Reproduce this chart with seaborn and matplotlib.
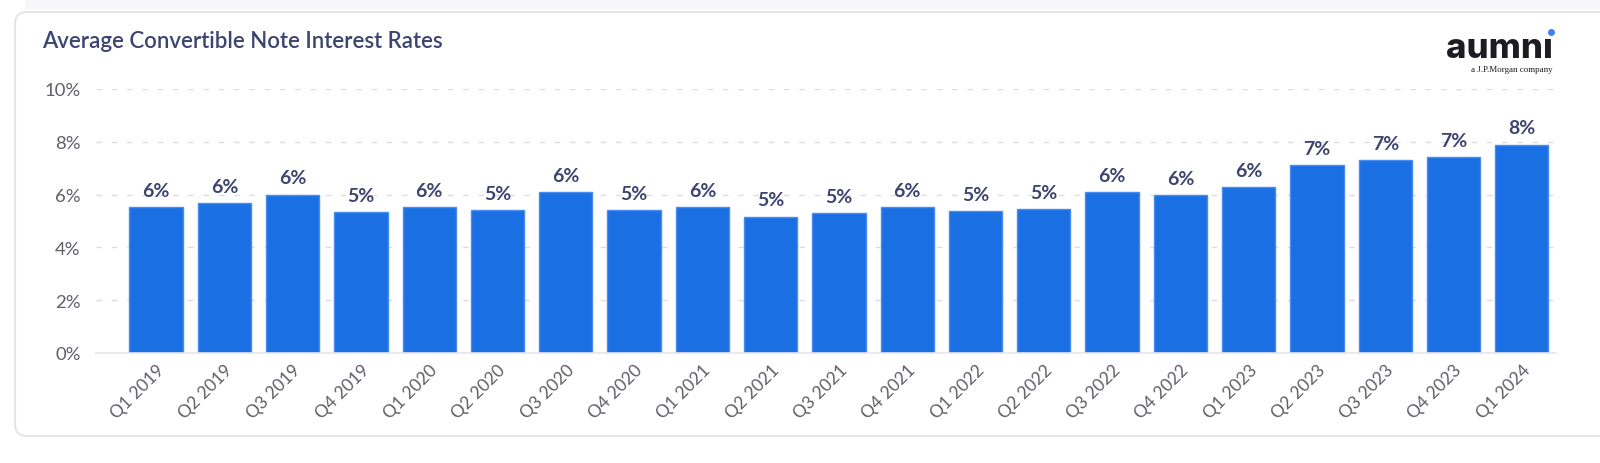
import numpy as np
import pandas as pd
import seaborn as sns
import matplotlib.pyplot as plt
from matplotlib.patches import FancyBboxPatch, Rectangle
from matplotlib.lines import Line2D

# values (percent)
quarters = ["Q1 2019", "Q2 2019", "Q3 2019", "Q4 2019",
            "Q1 2020", "Q2 2020", "Q3 2020", "Q4 2020",
            "Q1 2021", "Q2 2021", "Q3 2021", "Q4 2021",
            "Q1 2022", "Q2 2022", "Q3 2022", "Q4 2022",
            "Q1 2023", "Q2 2023", "Q3 2023", "Q4 2023",
            "Q1 2024"]
rates = [5.52, 5.68, 6.00, 5.33,
         5.52, 5.40, 6.10, 5.42,
         5.53, 5.17, 5.30, 5.53,
         5.36, 5.44, 6.10, 5.98,
         6.27, 7.12, 7.30, 7.41,
         7.89]
yticks = [0, 2, 4, 6, 8, 10]
ytick_labels = ["0%", "2%", "4%", "6%", "8%", "10%"]

title = "Average Convertible Note Interest Rates"
bar_color = "#1a6fe3"
navy = "#3d4470"
gray = "#5f5f6a"

sns.set_theme(style="white")
plt.rcParams['font.family'] = ['Lato', 'DejaVu Sans']

df = pd.DataFrame({"quarter": quarters, "rate": rates})

fig = plt.figure(figsize=(16, 4.64), dpi=100)
fig.patch.set_facecolor("white")

# card background
fig.add_artist(Rectangle((0.25, 4.54), 15.75, 0.1, transform=fig.dpi_scale_trans,
                         facecolor="#f7f7fa", edgecolor="none", zorder=-10))
card = FancyBboxPatch((0.15, 0.27), 16.2, 4.24,
                      boxstyle="round,pad=0,rounding_size=0.12",
                      transform=fig.dpi_scale_trans,
                      facecolor="white", edgecolor="#e4e4ea", linewidth=1.5, zorder=-10)
fig.add_artist(card)

ax = fig.add_axes([96 / 1600, 1 - 354 / 464, (1556 - 96) / 1600, (354 - 90) / 464])
ax.set_facecolor("none")
ax.set_zorder(5)

sns.barplot(data=df, x="quarter", y="rate", color=bar_color, width=0.78,
            saturation=1, edgecolor="#4a8df0", linewidth=1, ax=ax)

ax.bar_label(ax.containers[0], labels=[f"{v:.0f}%" for v in rates], padding=6,
             fontsize=14, fontweight="bold", color=navy)

ax.set_ylim(0, 10)
ax.set_xlim(-0.88, 20.5)
ax.set_yticks(yticks)
ax.set_yticklabels(ytick_labels, fontsize=13.3, color=gray)
ax.tick_params(axis="y", length=0, pad=11)
ax.tick_params(axis="x", length=0, pad=6)
for lab in ax.get_xticklabels():
    lab.set_rotation(45)
    lab.set_ha("right")
    lab.set_rotation_mode("anchor")
    lab.set_fontsize(12.5)
    lab.set_color(gray)
ax.set_xlabel("")
ax.set_ylabel("")

ax.yaxis.grid(True, linestyle=(0, (4, 7)), color="#dcdce2", linewidth=1)
ax.set_axisbelow(True)
for s in ["left", "right", "top"]:
    ax.spines[s].set_visible(False)
ax.spines["bottom"].set_color("#e6e6ea")
ax.spines["bottom"].set_linewidth(1.2)

fig.text(42 / 1600, 1 - 42 / 464, title, fontsize=16, fontweight="semibold",
         color=navy, va="center", ha="left")

# logo
fig.text(1553 / 1600, 1 - 58 / 464, "aumn\u0131", fontsize=25, fontweight="heavy",
         color="#1c1c22", ha="right", va="baseline", family=["Inter", "DejaVu Sans"])
fig.add_artist(Line2D([1551 / 1600], [1 - 33 / 464], marker="o", markersize=4,
                      color="#3b82f6", transform=fig.transFigure))
fig.text(1553 / 1600, 1 - 70 / 464, "a J.P.Morgan company", fontsize=6.5,
         color="#1c1c22", ha="right", va="center", family=["Liberation Serif"])

fig.savefig("out.png", dpi=100, facecolor=fig.get_facecolor())
